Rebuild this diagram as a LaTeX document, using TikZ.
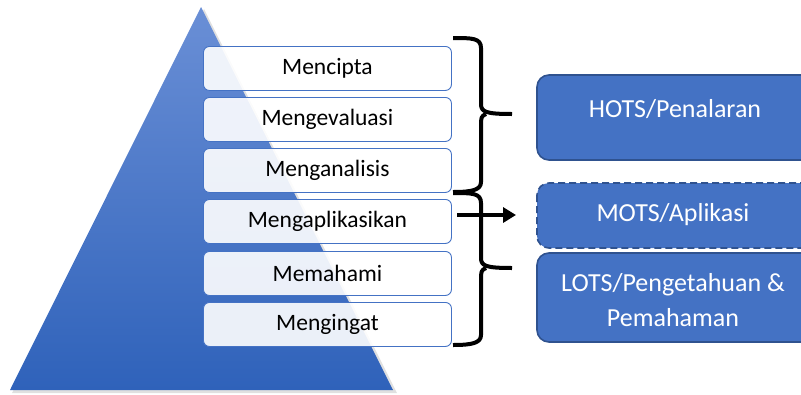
\documentclass[tikz,border=0pt]{standalone}
\usepackage{fontspec}
\setmainfont{Carlito}
\usetikzlibrary{arrows.meta,shadows}
\definecolor{pyrtop}{HTML}{6A8FD6}
\definecolor{pyrbot}{HTML}{2F62BA}
\definecolor{lvlborder}{HTML}{4472C4}
\definecolor{catfill}{HTML}{4472C4}
\definecolor{catborder}{HTML}{2F528F}
\tikzset{
  lvl/.style={draw=lvlborder, line width=0.9pt, fill=white, fill opacity=0.9, text opacity=1,
    rounded corners=6pt, minimum width=248pt, minimum height=44pt, inner sep=0pt,
    font=\fontsize{23.5}{28}\selectfont, anchor=north west},
  cat/.style={draw=catborder, line width=1.6pt, fill=catfill, rounded corners=12pt},
  cattext/.style={text=white, font=\fontsize{26}{35}\selectfont, align=center, inner sep=0pt},
  brace/.style={line width=4pt, line join=round},
}
\begin{document}
\begin{tikzpicture}[x=1pt,y=-1pt]
\useasboundingbox (0,0) rectangle (801,394);
% pyramid with soft shadow
\fill[black, opacity=0.12] (204,9) -- (397,393) -- (12,393) -- cycle;
\shade[top color=pyrtop, bottom color=pyrbot] (201,7) -- (393,390) -- (10,390) -- cycle;
% levels
\node[lvl] (l1) at (203,46) {Mencipta};
\node[lvl] (l2) at (203,97) {Mengevaluasi};
\node[lvl] (l3) at (203,148) {Menganalisis};
\node[lvl] (l4) at (203,199) {Mengaplikasikan};
\node[lvl] (l5) at (203,251) {Memahami};
\node[lvl] (l6) at (203,302) {Mengingat};
% categories
\begin{scope}
\clip (0,0) rectangle (801,394);
\draw[cat] (537,75) rectangle (830,160);
\node[cattext] (hots) at (675,109) {HOTS/Penalaran};
\draw[cat, dashed, dash pattern=on 7pt off 4pt] (537,183) rectangle (830,248);
\node[cattext] (mots) at (673,215) {MOTS/Aplikasi};
\draw[cat] (537,253) rectangle (830,342);
\node[cattext] (lots) at (673,300) {LOTS/Pengetahuan \&\\Pemahaman};
\end{scope}
% braces
\draw[brace] (453,38) .. controls (472,38) and (481,38) .. (481,48)
  -- (481,104) .. controls (481,112) and (486,114) .. (512,114);
\draw[brace] (486,114) .. controls (481,116) and (481,118) .. (481,126)
  -- (481,182) .. controls (481,190) and (472,192) .. (453,192);
\draw[brace] (453,193) .. controls (472,193) and (481,193) .. (481,203)
  -- (481,258) .. controls (481,266) and (486,268) .. (512,268);
\draw[brace] (486,268) .. controls (481,270) and (481,272) .. (481,280)
  -- (481,335) .. controls (481,343) and (472,345) .. (453,345);
% arrow
\coordinate (arrs) at (457,215);
\coordinate (arre) at (516,215);
\draw[line width=4pt, -{Triangle[length=13pt,width=15pt]}] (arrs) -- (arre);
\end{tikzpicture}
\end{document}
